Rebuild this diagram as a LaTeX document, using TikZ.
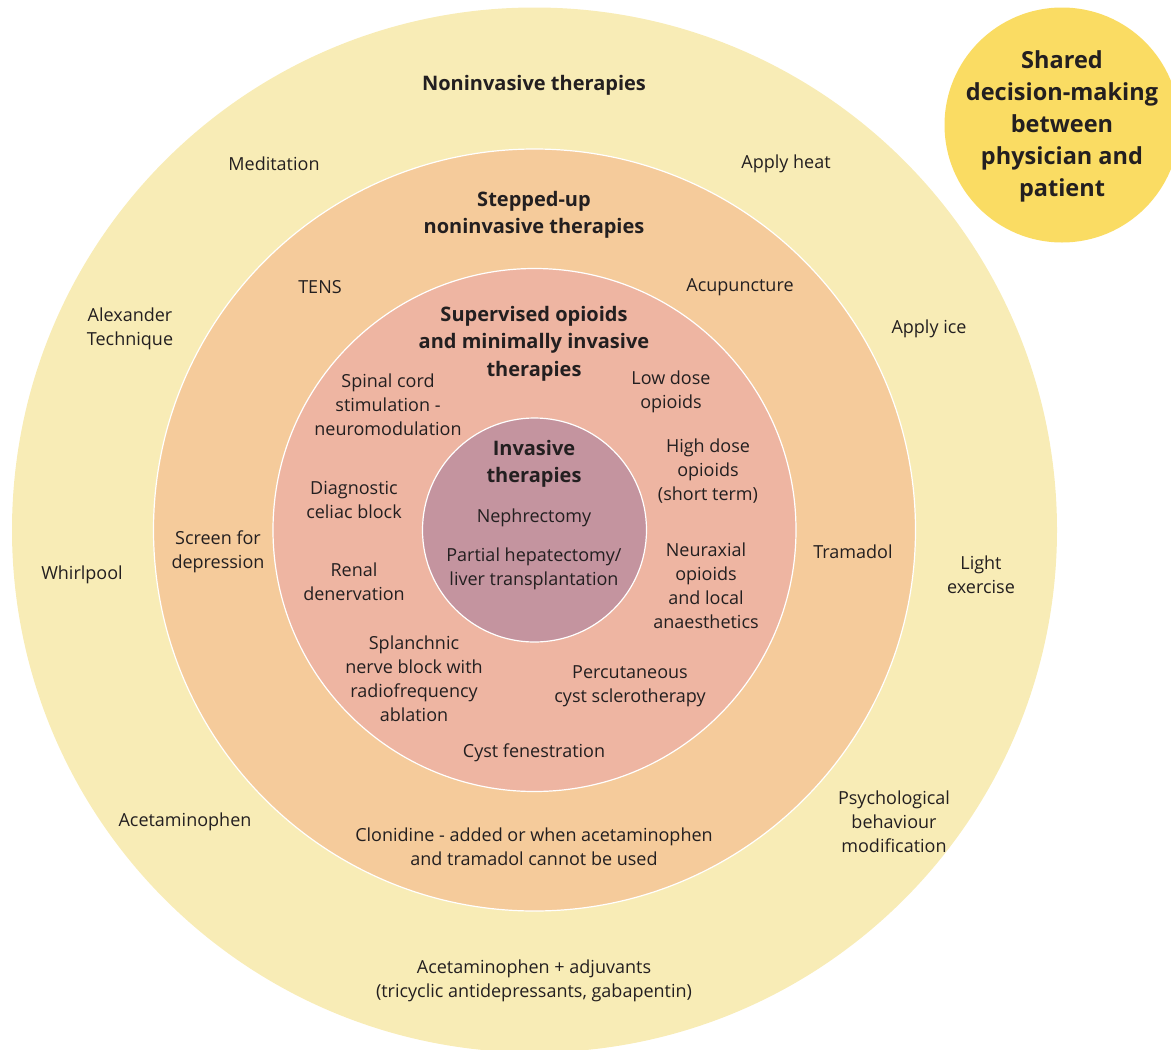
\documentclass[tikz,border=0pt]{standalone}
\usepackage{fontspec}
\setmainfont{Open Sans}
\definecolor{ringA}{HTML}{F8ECB6}
\definecolor{ringB}{HTML}{F5CB9B}
\definecolor{ringC}{HTML}{EEB5A2}
\definecolor{ringD}{HTML}{C4949F}
\definecolor{sdm}{HTML}{FADC63}
\definecolor{txt}{HTML}{231F20}
\tikzset{
  ring/.style={draw=white, line width=1.2pt},
  lbl/.style={align=center, inner sep=0pt, text=txt, yshift=-1pt, font=\fontsize{18}{24}\selectfont},
  head/.style={align=center, inner sep=0pt, text=txt, yshift=-1.5pt, font=\fontsize{20}{27.5}\selectfont\bfseries},
  bighead/.style={align=center, inner sep=0pt, text=txt, yshift=-1.5pt, font=\fontsize{23.5}{32}\selectfont\bfseries},
}
\begin{document}
\begin{tikzpicture}[x=1pt,y=-1pt]
\useasboundingbox (0,0) rectangle (1171,1050);
\begin{scope}
\clip (0,0) rectangle (1171,1050);
\fill[ringA] (534.5,530) circle (522.5);
\fill[sdm] (1062,125) circle (117.5);
\end{scope}
\filldraw[ring, fill=ringB] (534.5,530) circle (381);
\filldraw[ring, fill=ringC] (534.5,530) circle (261.5);
\filldraw[ring, fill=ringD] (534.5,530) circle (112);

% shared decision
\node[bighead] (sdmt) at (1062,125) {Shared\\decision-making\\between\\physician and\\patient};

% outer ring
\node[head] (h1) at (534,84) {Noninvasive therapies};
\node[lbl] (med) at (274,163) {Meditation};
\node[lbl] (heat) at (786,163) {Apply heat};
\node[lbl] (alex) at (130,328) {Alexander\\Technique};
\node[lbl] (ice) at (929,328) {Apply ice};
\node[lbl] (whirl) at (82,574) {Whirlpool};
\node[lbl] (light) at (981,574) {Light\\exercise};
\node[lbl] (acet) at (185,821) {Acetaminophen};
\node[lbl] (psych) at (894,821) {Psychological\\behaviour\\modification};
\node[lbl] (adj) at (534,980) {Acetaminophen + adjuvants\\(tricyclic antidepressants, gabapentin)};

% second ring
\node[head] (h2) at (534,213.5) {Stepped-up\\noninvasive therapies};
\node[lbl] (tens) at (320,286) {TENS};
\node[lbl] (acu) at (740,286) {Acupuncture};
\node[lbl] (screen) at (218,551) {Screen for\\depression};
\node[lbl] (tram) at (853,551) {Tramadol};
\node[lbl] (cloni) at (534,846) {Clonidine - added or when acetaminophen\\and tramadol cannot be used};

% third ring
\node[head] (h3) at (534,342) {Supervised opioids\\and minimally invasive\\therapies};
\node[lbl] (spinal) at (388,404) {Spinal cord\\stimulation -\\neuromodulation};
\node[lbl] (low) at (671,391) {Low dose\\opioids};
\node[lbl] (high) at (708,470) {High dose\\opioids\\(short term)};
\node[lbl] (diag) at (354,499) {Diagnostic\\celiac block};
\node[lbl] (renal) at (354,581) {Renal\\denervation};
\node[lbl] (neur) at (706,585) {Neuraxial\\opioids\\and local\\anaesthetics};
\node[lbl] (splan) at (414,678) {Splanchnic\\nerve block with\\radiofrequency\\ablation};
\node[lbl] (perc) at (630,685) {Percutaneous\\cyst sclerotherapy};
\node[lbl] (fen) at (534,752) {Cyst fenestration};

% inner
\node[head] (h4) at (534,462.5) {Invasive\\therapies};
\node[lbl] (neph) at (534,517) {Nephrectomy};
\node[lbl] (hep) at (534,568) {Partial hepatectomy/\\liver transplantation};
\end{tikzpicture}
\end{document}
